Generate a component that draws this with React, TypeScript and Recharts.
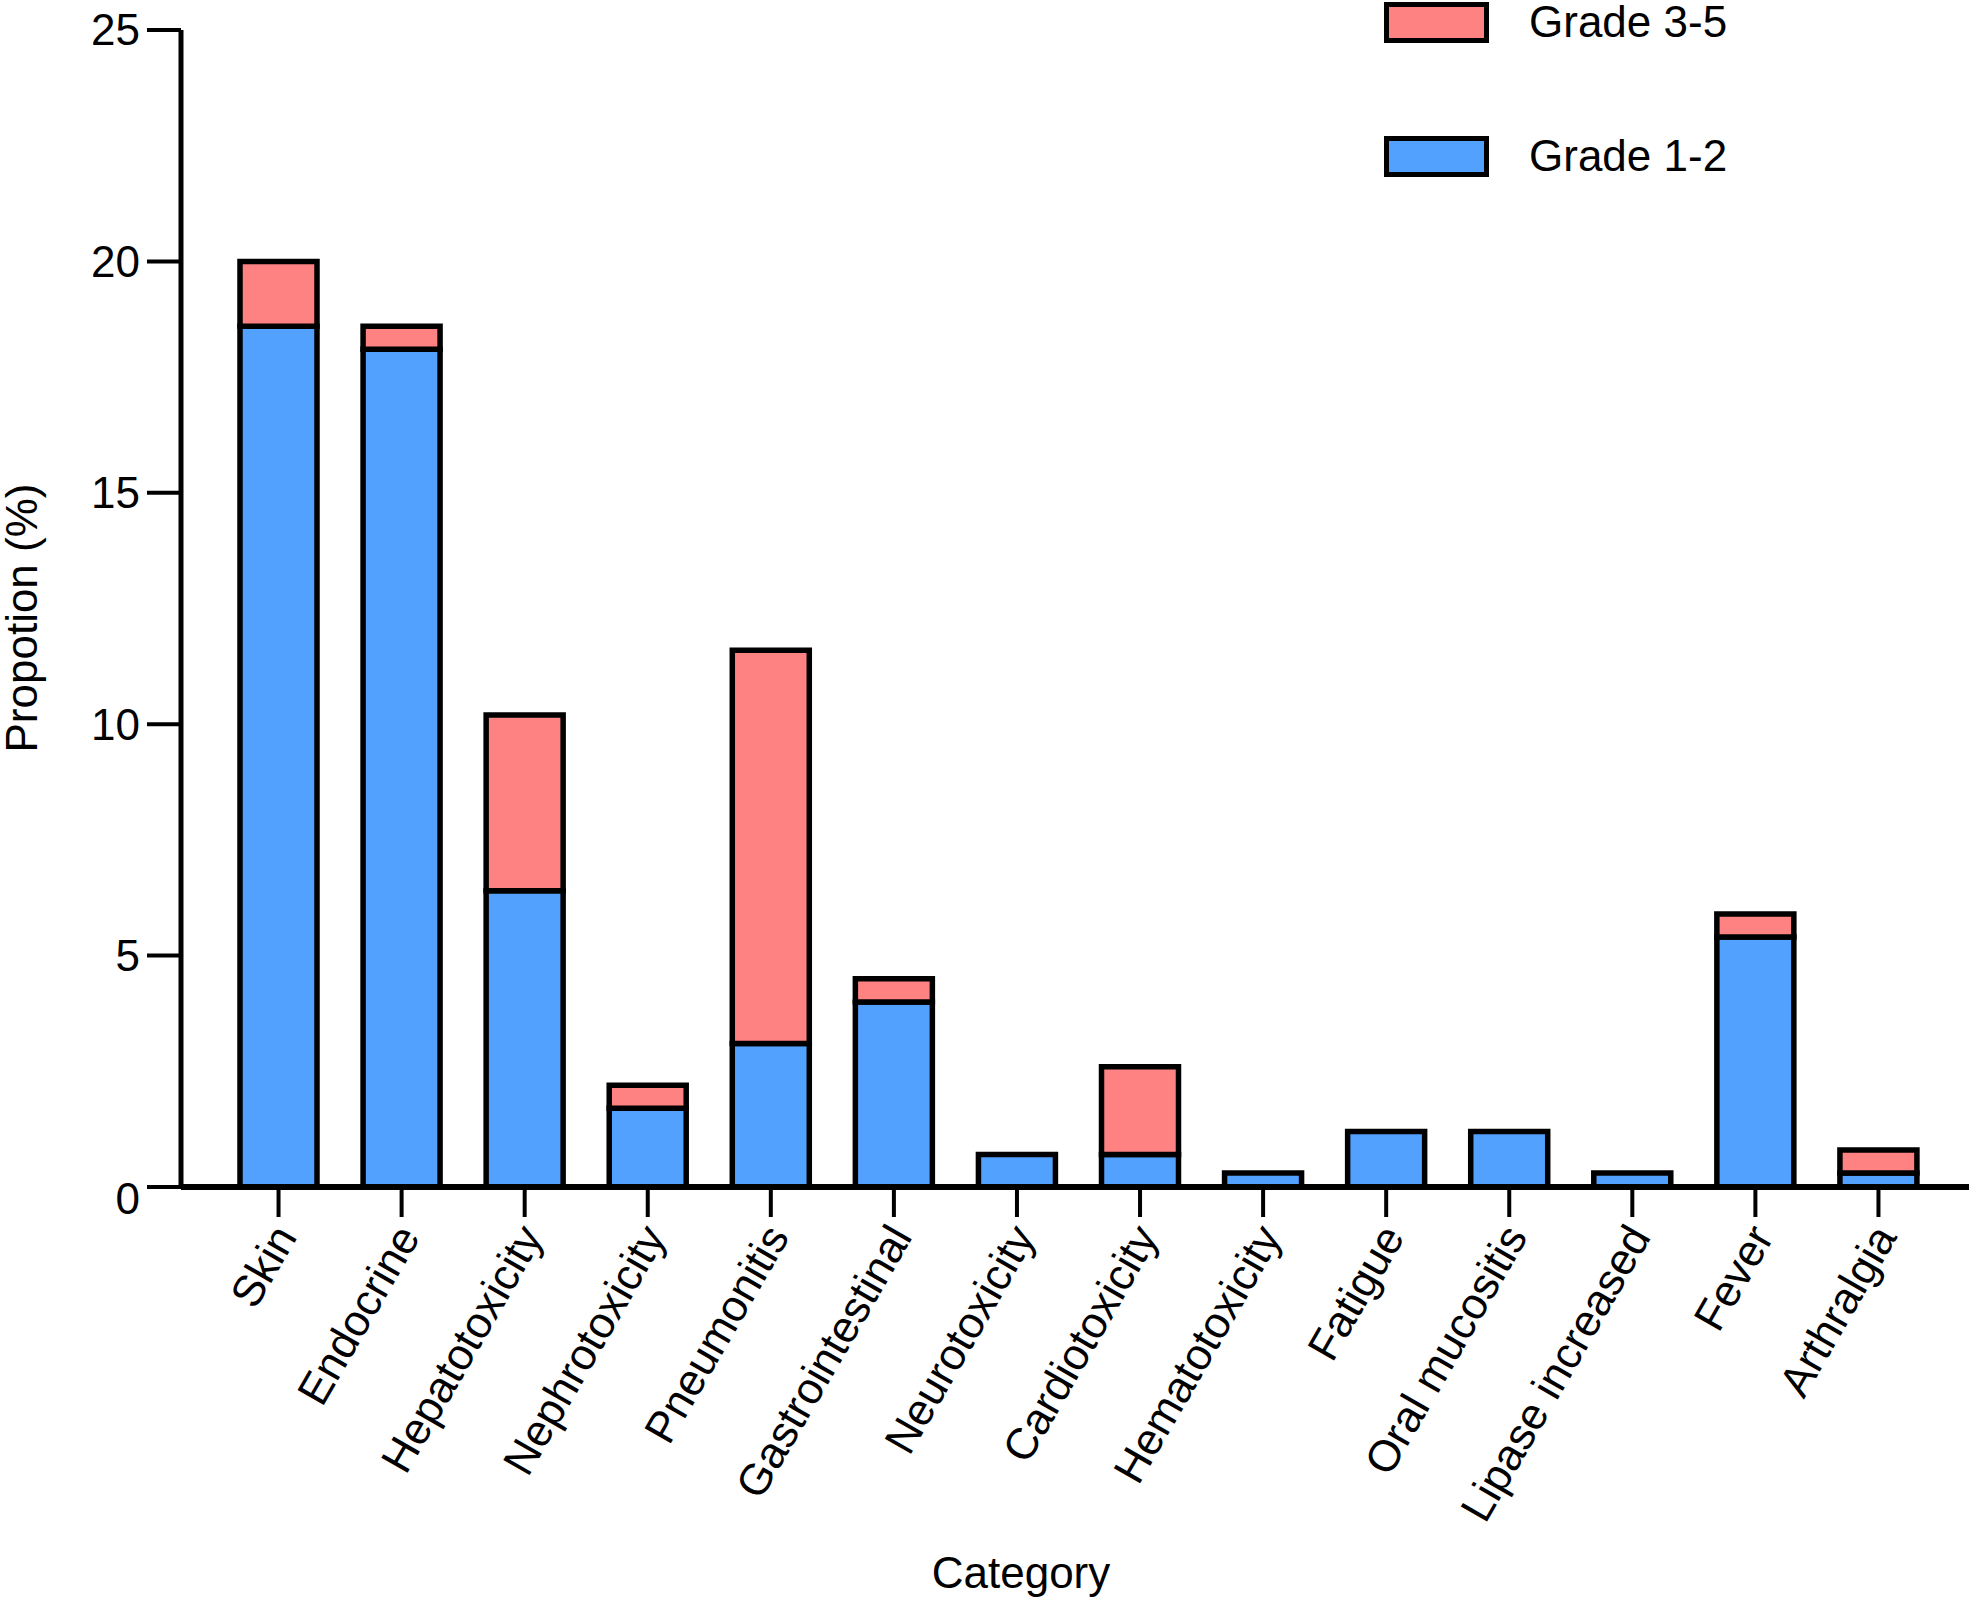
import React from 'react';
import { BarChart, Bar, XAxis, YAxis, Legend } from 'recharts';

const FONT = '"Liberation Sans", Arial, Helvetica, sans-serif';

const categories = [
  'Skin', 'Endocrine', 'Hepatotoxicity', 'Nephrotoxicity', 'Pneumonitis', 'Gastrointestinal', 'Neurotoxicity',
  'Cardiotoxicity', 'Hematotoxicity', 'Fatigue', 'Oral mucositis', 'Lipase increased', 'Fever', 'Arthralgia',
];
const grade12 = [18.6, 18.1, 6.4, 1.7, 3.1, 4.0, 0.7, 0.7, 0.3, 1.2, 1.2, 0.3, 5.4, 0.3];
const grade35 = [1.4, 0.5, 3.8, 0.5, 8.5, 0.5, 0, 1.9, 0, 0, 0, 0, 0.5, 0.5];
const yTicks = [0, 5, 10, 15, 20, 25];

const chartData = categories.map((name, i) => ({ name, low: grade12[i], high: grade35[i] }));

const XTick = ({ x, y, payload }: any) => (
  <g transform={`translate(${x + 6},${y + 4})`}>
    <text x={0} y={0} dy="0.35em" textAnchor="end" transform="rotate(-60)" fontSize={44} fill="#000" fontFamily={FONT}>
      {payload.value}
    </text>
  </g>
);

// PRISM puts the 0 label a touch below the axis line
const YTick = ({ x, y, payload }: any) => (
  <text x={x} y={y + (payload.value === 0 ? 12 : 0)} dy="0.35em" textAnchor="end" fontSize={44} fill="#000" fontFamily={FONT}>
    {payload.value}
  </text>
);

const renderLegend = ({ payload }: any) => (
  <div style={{ fontFamily: FONT }}>
    {[...(payload || [])].reverse().map((entry: any) => (
      <div key={entry.value} style={{ display: 'flex', alignItems: 'center', height: 44, marginBottom: 90 }}>
        <div style={{ width: 95, height: 31, background: entry.color, border: '5.5px solid #000' }} />
        <span style={{ marginLeft: 40, fontSize: 44, color: '#000' }}>{entry.value}</span>
      </div>
    ))}
  </div>
);

export default function App() {
  return (
    <div style={{ position: 'absolute', left: 0, top: 0, width: 1969, height: 1606, background: '#fff', fontFamily: FONT }}>
      <BarChart width={1969} height={1606} data={chartData} margin={{ top: 30, right: 0, bottom: 0, left: 0 }}>
        <XAxis
          dataKey="name"
          height={419}
          padding={{ left: 36, right: 29 }}
          interval={0}
          tickSize={30}
          tickMargin={8}
          axisLine={{ stroke: '#000', strokeWidth: 6 }}
          tickLine={{ stroke: '#000', strokeWidth: 4 }}
          tick={<XTick />}
        />
        <YAxis
          width={181}
          domain={[0, 25]}
          ticks={yTicks}
          tickSize={34}
          tickMargin={7}
          axisLine={{ stroke: '#000', strokeWidth: 5 }}
          tickLine={{ stroke: '#000', strokeWidth: 4 }}
          tick={<YTick />}
        />
        <Legend
          layout="vertical"
          align="center"
          verticalAlign="middle"
          content={renderLegend}
          wrapperStyle={{ position: 'absolute', top: 0, left: 1384, width: 400 }}
        />
        <Bar dataKey="low" name="Grade 1-2" stackId="g" fill="#53a1ff" stroke="#000" strokeWidth={5.5} barSize={77} isAnimationActive={false} />
        <Bar dataKey="high" name="Grade 3-5" stackId="g" fill="#ff8282" stroke="#000" strokeWidth={5.5} barSize={77} isAnimationActive={false} />
      </BarChart>
      <div
        style={{
          position: 'absolute', left: 22, top: 618, fontSize: 44, color: '#000', whiteSpace: 'nowrap',
          transform: 'translate(-50%, -50%) rotate(-90deg)',
        }}
      >
        Propotion (%)
      </div>
      <div
        style={{
          position: 'absolute', left: 1021, top: 1573, fontSize: 44, color: '#000', whiteSpace: 'nowrap',
          transform: 'translate(-50%, -50%)',
        }}
      >
        Category
      </div>
    </div>
  );
}
